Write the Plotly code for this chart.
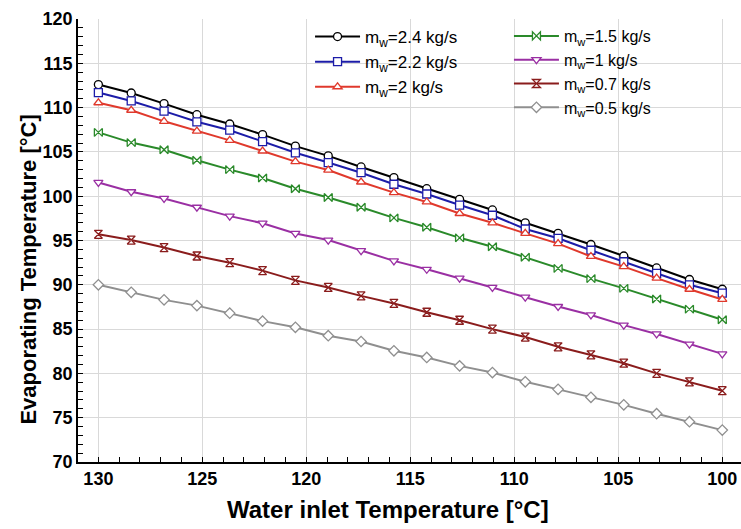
import plotly.graph_objects as go
import numpy as np

water_inlet = np.linspace(130, 100, 20)

labels = ["m<sub>w</sub>=2.4 kg/s", "m<sub>w</sub>=2.2 kg/s", "m<sub>w</sub>=2 kg/s",
          "m<sub>w</sub>=1.5 kg/s", "m<sub>w</sub>=1 kg/s", "m<sub>w</sub>=0.7 kg/s",
          "m<sub>w</sub>=0.5 kg/s"]

evap_24 = [112.6, 111.65, 110.45, 109.2, 108.15, 106.95, 105.65, 104.55, 103.3, 102.1,
           100.85, 99.65, 98.45, 97.0, 95.8, 94.55, 93.25, 91.9, 90.6, 89.5]
evap_22 = [111.7, 110.75, 109.6, 108.4, 107.45, 106.15, 104.9, 103.8, 102.65, 101.35,
           100.25, 99.0, 97.85, 96.3, 95.25, 93.9, 92.6, 91.3, 90.0, 89.05]
evap_20 = [110.55, 109.7, 108.45, 107.35, 106.3, 105.1, 103.9, 102.95, 101.6, 100.4,
           99.35, 98.05, 97.0, 95.8, 94.65, 93.2, 92.05, 90.75, 89.5, 88.35]
evap_15 = [107.2, 106.05, 105.25, 104.05, 103.0, 102.05, 100.85, 99.85, 98.75, 97.55,
           96.5, 95.3, 94.3, 93.1, 91.85, 90.7, 89.6, 88.4, 87.25, 86.05]
evap_10 = [101.55, 100.5, 99.75, 98.75, 97.75, 96.95, 95.8, 95.05, 93.85, 92.7,
           91.75, 90.75, 89.7, 88.6, 87.55, 86.6, 85.45, 84.45, 83.3, 82.2]
evap_07 = [95.7, 95.05, 94.2, 93.25, 92.5, 91.6, 90.5, 89.7, 88.75, 87.9,
           86.9, 86.0, 85.0, 84.1, 83.0, 82.1, 81.15, 80.0, 79.05, 78.05]
evap_05 = [90.0, 89.15, 88.3, 87.65, 86.8, 85.9, 85.2, 84.25, 83.6, 82.55,
           81.8, 80.85, 80.1, 79.05, 78.2, 77.3, 76.45, 75.45, 74.55, 73.6]

x_title = "Water inlet Temperature [°C]"
y_title = "Evaporating Temperature [°C]"
x_ticks = [130, 125, 120, 115, 110, 105, 100]

series = [evap_24, evap_22, evap_20, evap_15, evap_10, evap_07, evap_05]
colors = ["#000000", "#1c1ca8", "#e0392c", "#2a8a2a", "#9a2fa3", "#8a1c1c", "#8f8f8f"]
symbols = ["circle", "square", "triangle-up", "bowtie", "triangle-down", "hourglass", "diamond"]
legend_ids = ["legend", "legend", "legend", "legend2", "legend2", "legend2", "legend2"]

FONT = "Liberation Sans, Arial, sans-serif"

fig = go.Figure()
for vals, lab, col, sym, lg in zip(series, labels, colors, symbols, legend_ids):
    fig.add_trace(go.Scatter(
        x=water_inlet, y=vals, name=lab, mode="lines+markers",
        line=dict(color=col, width=2),
        marker=dict(symbol=sym, size=8, color="white",
                    line=dict(color=col, width=1.3)),
        legend=lg,
    ))

xr = [130.98, 99.1]
yr = [70, 120]
axis_font = dict(family=FONT, size=18, color="black", weight="bold")

fig.update_layout(
    width=741, height=529,
    margin=dict(l=78, r=0, t=19, b=67),
    plot_bgcolor="white", paper_bgcolor="white",
    font=dict(family=FONT, color="black"),
    xaxis=dict(
        range=xr, tickvals=x_ticks,
        showgrid=True, gridcolor="#d9d9d9", gridwidth=1,
        showline=True, linecolor="black", linewidth=1.5,
        ticks="inside", ticklen=5, tickcolor="black",
        minor=dict(dtick=1, tick0=100, ticks="inside", ticklen=5, tickcolor="black", showgrid=False),
        tickfont=axis_font, zeroline=False,
    ),
    yaxis=dict(
        range=yr, dtick=5, tick0=70,
        showgrid=True, gridcolor="#d9d9d9", gridwidth=1,
        showline=True, linecolor="black", linewidth=1.5,
        ticks="inside", ticklen=5, tickcolor="black",
        minor=dict(dtick=1, ticks="inside", ticklen=5, tickcolor="black", showgrid=False),
        tickfont=axis_font, zeroline=False,
    ),
    xaxis2=dict(
        overlaying="x", side="top", anchor="y", matches="x", range=xr,
        showgrid=False, showline=True, linecolor="#808080", linewidth=1,
        ticks="inside", ticklen=4, tickcolor="#606060", showticklabels=False,
        tickvals=x_ticks,
        minor=dict(dtick=1, tick0=100, ticks="inside", ticklen=4, tickcolor="#606060"),
        zeroline=False,
    ),
    yaxis2=dict(
        overlaying="y", side="right", anchor="x", matches="y", range=yr,
        showgrid=False, showline=False,
        ticks="inside", ticklen=4, tickcolor="#606060", showticklabels=False,
        dtick=5, tick0=70,
        minor=dict(dtick=1, ticks="inside", ticklen=4, tickcolor="#606060"),
        zeroline=False,
    ),
    legend=dict(x=0.35, y=1.0, xanchor="left", yanchor="top",
                bgcolor="rgba(0,0,0,0)", font=dict(family=FONT, size=17, color="black"),
                tracegroupgap=0, itemwidth=45),
    legend2=dict(x=0.65, y=1.0, xanchor="left", yanchor="top",
                 bgcolor="rgba(0,0,0,0)", font=dict(family=FONT, size=16, color="black"),
                 tracegroupgap=0, itemwidth=45),
    annotations=[
        dict(text=x_title, xref="paper", yref="paper", x=0.468, y=-0.108,
             xanchor="center", yanchor="middle", showarrow=False,
             font=dict(family=FONT, size=24, color="black", weight="bold")),
        dict(text=y_title, xref="paper", yref="paper", x=-0.075, y=0.435,
             xanchor="center", yanchor="middle", showarrow=False, textangle=-90,
             font=dict(family=FONT, size=22, color="black", weight="bold")),
    ],
)

fig.write_html("out.html")
